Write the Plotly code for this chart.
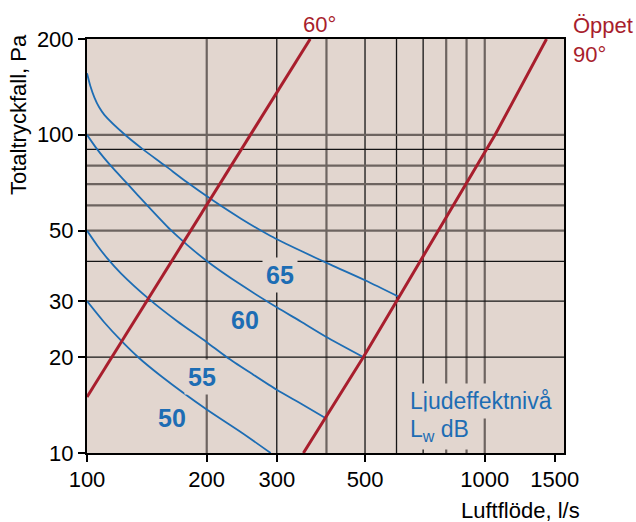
import numpy as np
import plotly.graph_objects as go

# ---------------- data ----------------
# Ljudeffektnivå curves: air flow q [l/s] -> total pressure drop p [Pa]
q50 = [100, 110.3, 122.9, 134.5, 154, 200, 244.5, 289.6]
p50 = [30, 25.8, 22.3, 20, 17.4, 13.7, 11.6, 10]

q55 = [100, 106.1, 112.5, 121.7, 143.5, 168.3, 200, 224.7, 258.7, 300, 344.6, 396.5]
p55 = [50, 44.9, 40.9, 36.7, 30.4, 26.0, 22.3, 20, 17.8, 15.8, 14.3, 12.9]

q60 = [100, 106.1, 114.7, 126.6, 141, 161.8, 178.5, 200.8, 244.5, 300, 344.6, 398.7, 496]
p60 = [100, 90, 80, 70, 60.4, 50.4, 45.1, 40, 33.7, 28.7, 25.9, 23.2, 20]

q65 = [100, 102, 104.4, 107.3, 110.7, 124.6, 138.3, 157.1, 178.5, 205.3, 244.5, 289.6, 344.6, 410.8, 500, 610]
p65 = [156, 142, 130.9, 122, 115.3, 100, 90, 80, 70.9, 62.7, 54.4, 48.1, 43.2, 39.0, 34.9, 30.9]

# damper position lines
q_deg60 = [100, 364]
p_deg60 = [15, 200]
q_deg90 = [350, 495, 600, 1062, 1430]
p_deg90 = [10, 20, 30, 100, 200]

# axis ticks
x_ticks = [100, 200, 300, 500, 1000, 1500]
y_ticks = [10, 20, 30, 50, 100, 200]

# grid lines (grey = heavier, black = thin)
x_grid_grey = [200, 400, 800, 900, 1000]
x_grid_black = [300, 500, 600, 700]
y_grid_grey = [50, 60, 70, 80, 100]
y_grid_black = [20, 30, 40, 90]

curve_labels = ["50", "55", "60", "65"]

# ---------------- styling ----------------
BG = "#e2d6cf"
BLUE = "#1d6db4"
RED = "#a81e2d"
GREY = "#6d6460"
FONT = "Liberation Sans, Arial, Helvetica, sans-serif"

W, H = 636, 522
ML, MR, MT, MB = 87, 72, 39, 69
PW, PH = W - ML - MR, H - MT - MB


def xp(px):
    return (px - ML) / PW


def yp(py):
    return (H - MB - py) / PH


fig = go.Figure()

# grid lines as plain line traces (clipped to the plot area)
for xs, col, wd in [(x_grid_grey, GREY, 2.2), (x_grid_black, "#151515", 1.3)]:
    for v in xs:
        fig.add_trace(go.Scatter(x=[v, v], y=[8, 250], mode="lines",
                                 line=dict(color=col, width=wd),
                                 hoverinfo="skip", showlegend=False))
for ys, col, wd in [(y_grid_grey, GREY, 2.2), (y_grid_black, "#151515", 1.3)]:
    for v in ys:
        fig.add_trace(go.Scatter(x=[90, 2000], y=[v, v], mode="lines",
                                 line=dict(color=col, width=wd),
                                 hoverinfo="skip", showlegend=False))

# blue sound-power curves
for q, p in [(q50, p50), (q55, p55), (q60, p60), (q65, p65)]:
    fig.add_trace(go.Scatter(x=q, y=p, mode="lines",
                             line=dict(color=BLUE, width=1.8, shape="spline", smoothing=0.7),
                             hoverinfo="skip", showlegend=False))

# red damper lines
for q, p in [(q_deg60, p_deg60), (q_deg90, p_deg90)]:
    fig.add_trace(go.Scatter(x=q, y=p, mode="lines",
                             line=dict(color=RED, width=3),
                             hoverinfo="skip", showlegend=False))

x_end = 2 + (564 - 86.7) / 398.0

base_axis = dict(
    type="log", showgrid=False, zeroline=False,
    showline=True, linecolor="black", linewidth=2, mirror=True,
    tickfont=dict(family=FONT, size=22, color="black"),
)

fig.update_layout(
    width=W, height=H,
    margin=dict(l=ML, r=MR, t=MT, b=MB, pad=0),
    paper_bgcolor="white", plot_bgcolor=BG,
    showlegend=False,
    xaxis=dict(range=[2, x_end], tickvals=x_ticks,
               ticktext=[str(v) for v in x_ticks],
               ticks="", ticklabelstandoff=6,
               minor=dict(tickmode="array", tickvals=x_ticks, ticks="outside",
                          ticklen=7, tickwidth=1.5, tickcolor="black", showgrid=False),
               **base_axis),
    yaxis=dict(range=[1, np.log10(200)], tickvals=y_ticks,
               ticktext=[str(v) for v in y_ticks],
               ticks="outside", ticklen=7, tickwidth=1.5, tickcolor="black",
               **base_axis),
)

ann = []
# curve labels (bold, with background to break grid lines)
label_pos = [(171.7, 418.3), (201.7, 376.7), (245.3, 320), (280.3, 275)]
for txt, (px, py) in zip(curve_labels, label_pos):
    ann.append(dict(xref="paper", yref="paper", x=xp(px), y=yp(py),
                    text="<b>%s</b>" % txt, showarrow=False,
                    font=dict(family=FONT, size=25, color=BLUE),
                    bgcolor=BG, borderpad=3,
                    xanchor="center", yanchor="middle"))

ann.append(dict(xref="paper", yref="paper", x=xp(405), y=yp(400.5),
                text="Ljudeffektnivå", showarrow=False,
                font=dict(family=FONT, size=23, color=BLUE),
                bgcolor=BG, borderpad=4, xanchor="left", yanchor="middle"))
ann.append(dict(xref="paper", yref="paper", x=xp(405), y=yp(430),
                text="L<sub>w</sub> dB", showarrow=False,
                font=dict(family=FONT, size=23, color=BLUE),
                bgcolor=BG, borderpad=4, xanchor="left", yanchor="middle"))

# red line labels
ann.append(dict(xref="paper", yref="paper", x=xp(319.7), y=yp(24),
                text="60°", showarrow=False,
                font=dict(family=FONT, size=22, color=RED),
                xanchor="center", yanchor="middle"))
ann.append(dict(xref="paper", yref="paper", x=xp(571), y=yp(25),
                text="Öppet", showarrow=False,
                font=dict(family=FONT, size=22, color=RED),
                xanchor="left", yanchor="middle"))
ann.append(dict(xref="paper", yref="paper", x=xp(571), y=yp(55),
                text="90°", showarrow=False,
                font=dict(family=FONT, size=22, color=RED),
                xanchor="left", yanchor="middle"))

# axis titles
ann.append(dict(xref="paper", yref="paper", x=xp(18.3), y=yp(114.7),
                text="Totaltryckfall, Pa", textangle=-90, showarrow=False,
                font=dict(family=FONT, size=22, color="black"),
                xanchor="center", yanchor="middle"))
ann.append(dict(xref="paper", yref="paper", x=xp(582), y=yp(510),
                text="Luftflöde, l/s", showarrow=False,
                font=dict(family=FONT, size=22, color="black"),
                xanchor="right", yanchor="middle"))

fig.update_layout(annotations=ann)

fig.write_html("out.html",
               config={"displayModeBar": False},
               post_script="document.body.style.margin='0px';document.body.style.overflow='hidden';")
